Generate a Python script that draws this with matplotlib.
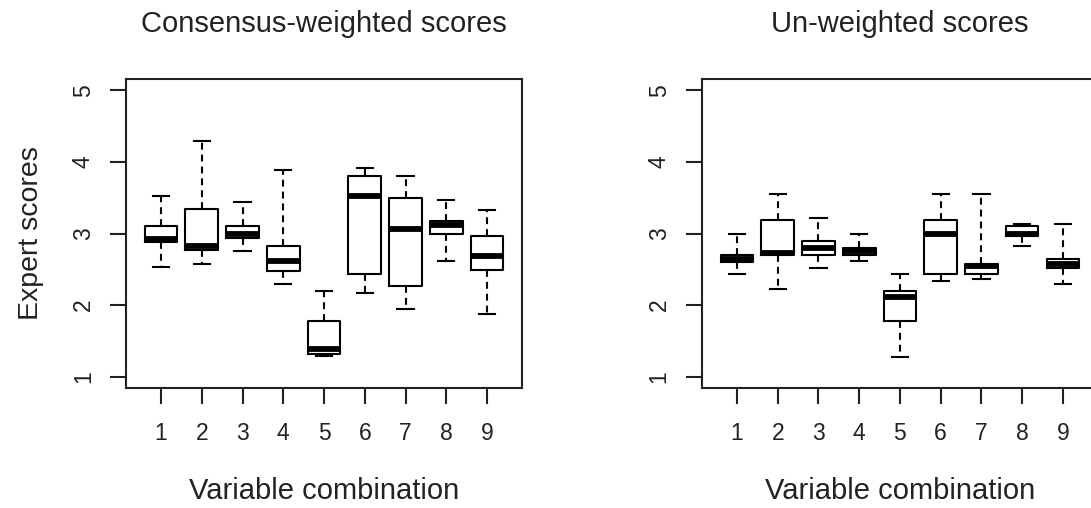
import matplotlib.pyplot as plt

plt.rcParams['font.family'] = ['Liberation Sans', 'DejaVu Sans']

combos = [1, 2, 3, 4, 5, 6, 7, 8, 9]

# consensus-weighted scores: lower whisker, Q1, median, Q3, upper whisker
cw_low = [2.53, 2.58, 2.75, 2.29, 1.29, 2.17, 1.94, 2.61, 1.88]
cw_q1 = [2.88, 2.77, 2.94, 2.47, 1.31, 2.44, 2.27, 3.00, 2.49]
cw_med = [2.92, 2.82, 2.99, 2.61, 1.39, 3.53, 3.06, 3.12, 2.69]
cw_q3 = [3.11, 3.34, 3.11, 2.83, 1.78, 3.80, 3.50, 3.17, 2.97]
cw_high = [3.52, 4.30, 3.44, 3.89, 2.19, 3.91, 3.80, 3.47, 3.33]

# un-weighted scores
uw_low = [2.44, 2.22, 2.52, 2.61, 1.27, 2.34, 2.36, 2.83, 2.30]
uw_q1 = [2.60, 2.70, 2.70, 2.70, 1.78, 2.44, 2.44, 2.97, 2.52]
uw_med = [2.65, 2.73, 2.80, 2.76, 2.11, 3.00, 2.54, 3.00, 2.58]
uw_q3 = [2.70, 3.19, 2.89, 2.80, 2.19, 3.19, 2.58, 3.11, 2.64]
uw_high = [3.00, 3.55, 3.22, 3.00, 2.44, 3.55, 3.55, 3.13, 3.13]


def make_stats(low, q1, med, q3, high):
    return [dict(whislo=a, q1=b, med=c, q3=d, whishi=e, fliers=[])
            for a, b, c, d, e in zip(low, q1, med, q3, high)]


def draw(ax, stats, title, ylabel=None):
    ax.bxp(stats, positions=combos, widths=0.8, showfliers=False,
           boxprops=dict(color='black', linewidth=1.5),
           medianprops=dict(color='black', linewidth=4.2, solid_capstyle='butt'),
           whiskerprops=dict(color='black', linewidth=1.5, linestyle=(0, (3.3, 2.4))),
           capprops=dict(color='black', linewidth=1.5),
           capwidths=0.4)
    ax.set_xlim(0.14, 9.86)
    ax.set_ylim(0.84, 5.16)
    ax.set_xticks(combos)
    ax.set_xticklabels([str(c) for c in combos])
    ax.set_yticks([1, 2, 3, 4, 5])
    ax.tick_params(axis='both', direction='out', length=11.5, width=1.5,
                   labelsize=16.5, colors='#222222')
    ax.tick_params(axis='x', pad=13)
    ax.tick_params(axis='y', pad=11)
    for lab in ax.get_yticklabels():
        lab.set_rotation(90)
        lab.set_va('center')
    for s in ax.spines.values():
        s.set_linewidth(1.5)
        s.set_color('#222222')
    ax.set_title(title, fontsize=21, pad=34, color='#222222')
    ax.set_xlabel('Variable combination', fontsize=21, labelpad=23, color='#222222')
    if ylabel:
        ax.set_ylabel(ylabel, fontsize=20.5, labelpad=20, color='#222222')


fig = plt.figure(figsize=(10.91, 5.08), dpi=100)
ax1 = fig.add_axes([0.1155, 0.2362, 0.363, 0.6083])
ax2 = fig.add_axes([0.6434, 0.2362, 0.363, 0.6083])

draw(ax1, make_stats(cw_low, cw_q1, cw_med, cw_q3, cw_high),
     'Consensus-weighted scores', 'Expert scores')
draw(ax2, make_stats(uw_low, uw_q1, uw_med, uw_q3, uw_high),
     'Un-weighted scores')

fig.savefig('out.png', dpi=100)
